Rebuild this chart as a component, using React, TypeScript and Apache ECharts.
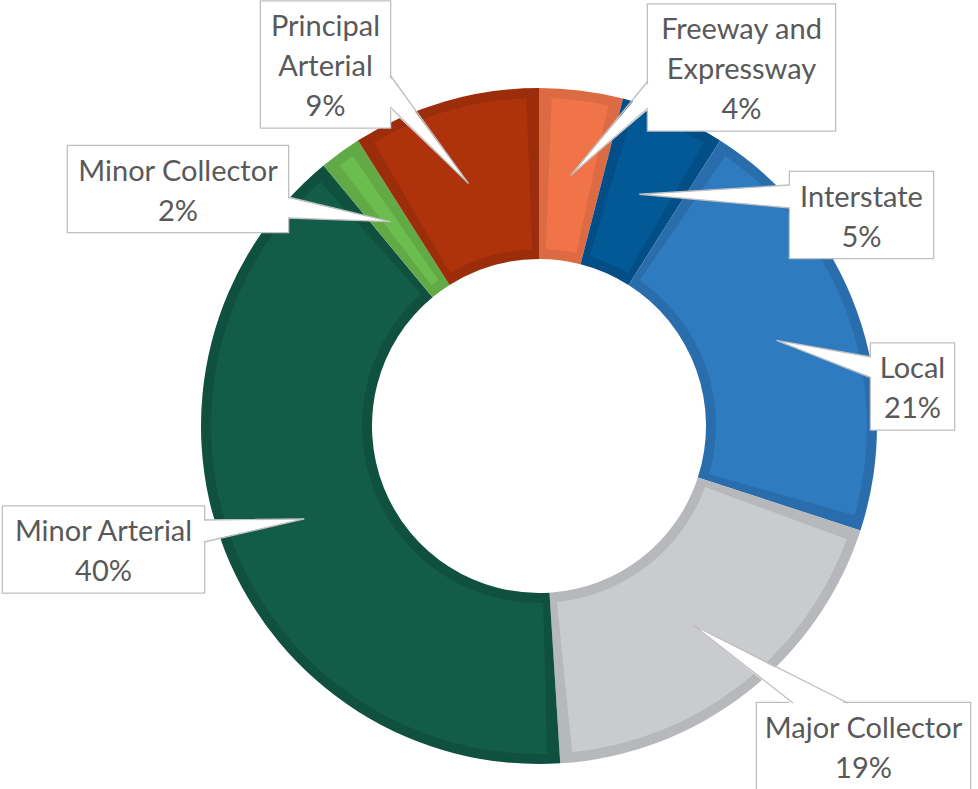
import React, { useEffect, useRef } from 'react';
import * as echarts from 'echarts';

// ---- data ----
const categories = [
  'Freeway and Expressway',
  'Interstate',
  'Local',
  'Major Collector',
  'Minor Arterial',
  'Minor Collector',
  'Principal Arterial',
];
const values = [4, 5, 21, 19, 40, 2, 9];
const labelNames = [
  'Freeway and\nExpressway',
  'Interstate',
  'Local',
  'Major Collector',
  'Minor Arterial',
  'Minor Collector',
  'Principal\nArterial',
];

// ---- styles ----
const fillColors = ['#F07447', '#035896', '#2E7BC0', '#C9CBCE', '#135C48', '#6CBD4F', '#AE330D'];
const edgeColors = ['#DC6A43', '#034E86', '#2A6DAC', '#B7B8BB', '#0F503F', '#61AA46', '#9B2D0A'];

// label boxes: [centerX, centerY, width]
const labelBoxes: number[][] = [
  [741.5, 67.5, 187],
  [861.5, 215, 143],
  [912.5, 386.5, 83],
  [863.5, 746, 213],
  [103.5, 549.5, 201],
  [178, 189, 220],
  [325.5, 64.5, 129],
];
// callout pointer base: side of box, from, to
const pointerBases: [string, number, number][] = [
  ['left', 81, 108],
  ['left', 185, 208],
  ['left', 357, 378],
  ['top', 793, 848],
  ['right', 520, 542],
  ['right', 197, 218],
  ['right', 75, 107],
];

const CENTER = [539, 426];
const R_OUT = 338;
const R_IN = 167;
const BAND = 10;
const LINE_H = 40;

export default function App() {
  const ref = useRef<HTMLDivElement>(null);

  useEffect(() => {
    if (!ref.current) return;
    const chart = echarts.init(ref.current, null, { renderer: 'svg' });

    const baseData = categories.map((name, i) => ({
      name,
      value: values[i],
      itemStyle: { color: edgeColors[i] },
    }));
    const fillData = categories.map((name, i) => ({
      name,
      value: values[i],
      itemStyle: { color: fillColors[i] },
      label: { width: labelBoxes[i][2] - 10 },
    }));

    const option: any = {
      animation: false,
      backgroundColor: '#ffffff',
      series: [
        {
          type: 'pie',
          z: 1,
          silent: true,
          center: CENTER,
          radius: [R_IN, R_OUT],
          startAngle: 90,
          clockwise: true,
          avoidLabelOverlap: false,
          label: { show: false },
          labelLine: { show: false },
          emphasis: { disabled: true },
          data: baseData,
        },
        {
          type: 'pie',
          z: 2,
          silent: true,
          center: CENTER,
          radius: [R_IN + BAND, R_OUT - BAND],
          startAngle: 90,
          clockwise: true,
          padAngle: 4.4,
          avoidLabelOverlap: false,
          percentPrecision: 0,
          emphasis: { disabled: true },
          label: {
            show: true,
            position: 'outside',
            formatter: (p: any) => `${labelNames[p.dataIndex]}\n${Math.round(p.percent)}%`,
            color: '#595959',
            fontFamily: 'Lato',
            fontSize: 29,
            lineHeight: LINE_H,
            backgroundColor: '#ffffff',
            borderColor: '#BFBFBF',
            borderWidth: 1.3,
            padding: [3, 5],
            align: 'center',
          },
          labelLine: { show: false },
          labelLayout: (params: any) => {
            const b = labelBoxes[params.dataIndex];
            return { x: b[0], y: b[1], align: 'center', verticalAlign: 'middle' };
          },
          data: fillData,
        },
      ],
    };
    chart.setOption(option);

    // callout pointers from the pie's own layout
    const graphics: any[] = [];
    let layouts: any[] = [];
    try {
      const data = (chart as any).getModel().getSeriesByIndex(0).getData();
      for (let i = 0; i < categories.length; i++) layouts.push(data.getItemLayout(i));
    } catch (e) {
      layouts = [];
    }
    if (layouts.length !== categories.length) {
      const total = values.reduce((a, b) => a + b, 0);
      let acc = 0;
      layouts = values.map((v) => {
        const s = -Math.PI / 2 + (acc / total) * Math.PI * 2;
        acc += v;
        const e = -Math.PI / 2 + (acc / total) * Math.PI * 2;
        return { cx: CENTER[0], cy: CENTER[1], r: R_OUT, r0: R_IN, startAngle: s, endAngle: e };
      });
    }

    layouts.forEach((l, i) => {
      const mid = (l.startAngle + l.endAngle) / 2;
      const rr = (l.r + l.r0) / 2;
      const tip = [l.cx + rr * Math.cos(mid), l.cy + rr * Math.sin(mid)];
      const box = labelBoxes[i];
      const [side, a, b] = pointerBases[i];
      const nLines = labelNames[i].split('\n').length + 1;
      const h = nLines * LINE_H + 6;
      const w = box[2];
      let p1: number[], p2: number[], q1: number[], q2: number[];
      if (side === 'left') {
        const x = box[0] - w / 2;
        p1 = [x, a]; p2 = [x, b]; q1 = [x + 2, a]; q2 = [x + 2, b];
      } else if (side === 'right') {
        const x = box[0] + w / 2;
        p1 = [x, a]; p2 = [x, b]; q1 = [x - 2, a]; q2 = [x - 2, b];
      } else if (side === 'top') {
        const y = box[1] - h / 2;
        p1 = [a, y]; p2 = [b, y]; q1 = [a, y + 2]; q2 = [b, y + 2];
      } else {
        const y = box[1] + h / 2;
        p1 = [a, y]; p2 = [b, y]; q1 = [a, y - 2]; q2 = [b, y - 2];
      }
      graphics.push({
        type: 'polygon',
        z: 100,
        silent: true,
        shape: { points: [q1, tip, q2] },
        style: { fill: '#ffffff', stroke: 'none' },
      });
      graphics.push({
        type: 'polyline',
        z: 101,
        silent: true,
        shape: { points: [p1, tip, p2] },
        style: { stroke: '#BFBFBF', lineWidth: 1.3, fill: 'none' },
      });
    });
    chart.setOption({ graphic: { elements: graphics } });

    return () => chart.dispose();
  }, []);

  return (
    <div
      ref={ref}
      style={{ position: 'fixed', left: 0, top: 0, width: 978, height: 789, background: '#ffffff' }}
    />
  );
}
